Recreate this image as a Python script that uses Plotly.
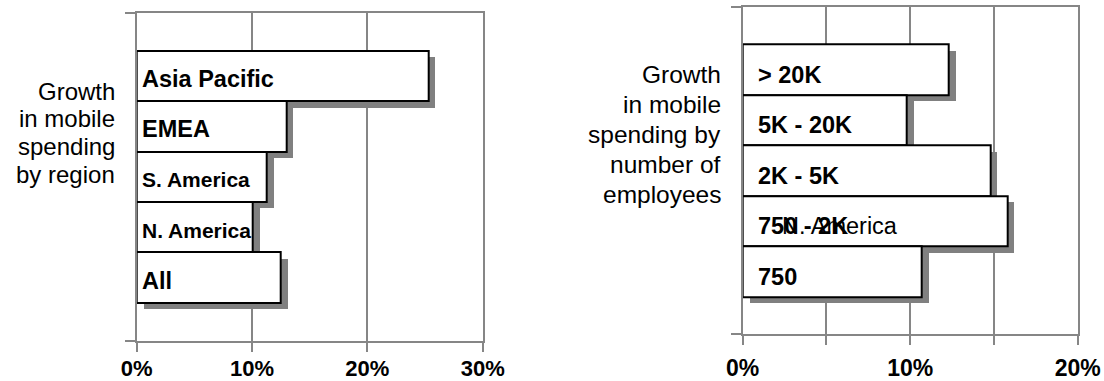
import plotly.graph_objects as go

# ---------------- data ----------------
region_labels = ["Asia Pacific", "EMEA", "S. America", "N. America", "All"]
region_growth = [25.3, 13.0, 11.3, 10.1, 12.5]
region_tickvals = [0, 10, 20, 30]
region_ticktext = ["0%", "10%", "20%", "30%"]

size_labels = ["> 20K", "5K - 20K", "2K - 5K", "750 - 2K", "750"]
size_growth = [12.3, 9.8, 14.8, 15.8, 10.7]
size_tickvals = [0, 5, 10, 15, 20]
size_ticktext = ["0%", "", "10%", "", "20%"]

left_title = ["Growth", "in mobile", "spending", "by region"]
right_title = ["Growth", "in mobile", "spending by", "number of", "employees"]
stray_label = "N. America"   # label printed over the "750 - 2K" bar

# ---------------- layout constants ----------------
W, H = 1104, 381
FONT = "Liberation Sans, Arial, Helvetica, sans-serif"
GRID = "#868686"
SHADOW = "#808080"
SHADOW_PX = 6.5

panels = [
    dict(labels=region_labels, values=region_growth, tickvals=region_tickvals,
         ticktext=region_ticktext, xmax=30, xpx=(136.7, 482.7), ypx=(13, 341),
         yrange=(-1.26, 5.248), xa="x", ya="y", label_xshift=3, label_yshift=-3,
         tickfont=22, standoff=-2, sizes={"S. America": 21, "N. America": 21}),
    dict(labels=size_labels, values=size_growth, tickvals=size_tickvals,
         ticktext=size_ticktext, xmax=20, xpx=(742.7, 1077.7), ypx=(7.3, 334.3),
         yrange=(-1.238, 5.232), xa="x2", ya="y2", label_xshift=13, label_yshift=-5,
         tickfont=23, standoff=3, sizes={}),
]

fig = go.Figure()
annotations = []
layout_axes = {}

for k, p in enumerate(panels):
    n = len(p["labels"])
    x0, x1 = p["xpx"]
    yt, yb = p["ypx"]
    r0, r1 = p["yrange"]
    dx = SHADOW_PX * p["xmax"] / (x1 - x0)
    dy = SHADOW_PX * (r1 - r0) / (yb - yt)
    for i, (lab, val) in enumerate(zip(p["labels"], p["values"])):
        pos = n - 1 - i
        fig.add_trace(go.Bar(x=[val], base=[dx], y=[pos - dy], width=1, orientation="h",
                             marker=dict(color=SHADOW, line=dict(width=0)),
                             xaxis=p["xa"], yaxis=p["ya"], showlegend=False, hoverinfo="skip"))
        fig.add_trace(go.Bar(x=[val], base=[0], y=[pos], width=1, orientation="h",
                             marker=dict(color="white", line=dict(color="black", width=2)),
                             xaxis=p["xa"], yaxis=p["ya"], showlegend=False, name=lab))
        annotations.append(dict(x=0, y=pos, xref=p["xa"], yref=p["ya"], text=lab,
                                showarrow=False, xanchor="left", yanchor="middle",
                                xshift=p["label_xshift"], yshift=p["label_yshift"],
                                font=dict(family=FONT, size=p["sizes"].get(lab, 23.5),
                                          color="black", weight="bold")))
    xname = "xaxis" if k == 0 else "xaxis2"
    yname = "yaxis" if k == 0 else "yaxis2"
    layout_axes[xname] = dict(domain=[x0 / W, x1 / W], range=[0, p["xmax"]],
                              tickvals=p["tickvals"], ticktext=p["ticktext"],
                              showgrid=True, gridcolor=GRID, gridwidth=2,
                              showline=True, linecolor=GRID, linewidth=2, mirror=True,
                              ticks="outside", ticklen=9, tickwidth=2, tickcolor=GRID,
                              ticklabelstandoff=p["standoff"],
                              tickfont=dict(family=FONT, size=p["tickfont"], color="black",
                                            weight="bold"),
                              zeroline=False, anchor=p["ya"], fixedrange=True,
                              automargin=False)
    layout_axes[yname] = dict(domain=[1 - yb / H, 1 - yt / H], range=[r0, r1],
                              tickvals=[r0, r1], showticklabels=False,
                              ticks="outside", ticklen=10, tickwidth=2, tickcolor=GRID,
                              showgrid=False, showline=True, linecolor=GRID, linewidth=2,
                              mirror=True, zeroline=False, anchor=p["xa"], fixedrange=True,
                              automargin=False)

# stray overlapping label on the "750 - 2K" bar
pos_stray = len(size_labels) - 1 - size_labels.index("750 - 2K")
annotations.append(dict(x=0, y=pos_stray, xref="x2", yref="y2", text=stray_label,
                        showarrow=False, xanchor="left", yanchor="middle",
                        xshift=37, yshift=-5,
                        font=dict(family=FONT, size=23.5, color="black")))

# side titles
def add_title(lines, right_px, first_center_px, step_px, size):
    for j, line in enumerate(lines):
        cy = first_center_px + j * step_px
        annotations.append(dict(x=right_px / W, y=1 - cy / H, xref="paper", yref="paper",
                                text=line, showarrow=False, xanchor="right", yanchor="middle",
                                font=dict(family=FONT, size=size, color="black")))

add_title(left_title, 117, 91, 27.8, 24)
add_title(right_title, 723, 74, 30.2, 24.5)

fig.update_layout(width=W, height=H, margin=dict(l=0, r=0, t=0, b=0, autoexpand=False),
                  paper_bgcolor="white", plot_bgcolor="white", barmode="overlay",
                  bargap=0, annotations=annotations, showlegend=False, **layout_axes)

fig.write_html("out.html")
